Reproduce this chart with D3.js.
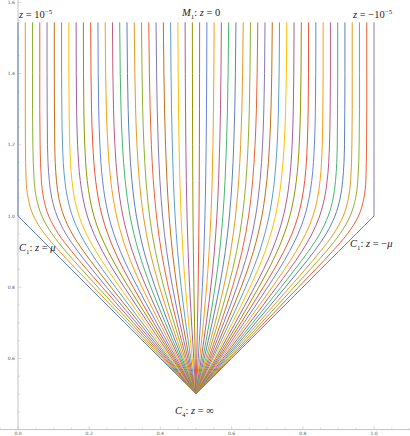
<!DOCTYPE html>
<html>
<head>
<meta charset="utf-8">
<script src="https://cdn.jsdelivr.net/npm/d3@7"></script>
<style>
    body { margin: 0; background: #fff; }
    svg { display: block; }
    .lbl { font-family: "Liberation Serif", "DejaVu Serif", serif; font-size: 10.5px; fill: #222; }
    .tick-lbl { font-family: "DejaVu Sans", sans-serif; font-size: 4.5px; fill: #555; }
</style>
</head>
<body>
<div id="chart"></div>
<script>
// x of each curve where it leaves the top of the plot
const topX = [0, 0.0204, 0.0408, 0.0612, 0.0816, 0.1020, 0.1224, 0.1429, 0.1633, 0.1837,
              0.2041, 0.2245, 0.2449, 0.2653, 0.2857, 0.3061, 0.3265, 0.3469, 0.3673, 0.3878,
              0.4082, 0.4286, 0.4490, 0.4694, 0.4898, 0.5102, 0.5306, 0.5510, 0.5714, 0.5918,
              0.6122, 0.6327, 0.6531, 0.6735, 0.6939, 0.7143, 0.7347, 0.7551, 0.7755, 0.7959,
              0.8163, 0.8367, 0.8571, 0.8776, 0.8980, 0.9184, 0.9388, 0.9592, 0.9796, 1];

// y levels where the curves are sampled
const levels = [1.544, 1.4, 1.3, 1.2, 1.1, 1.05, 1.0, 0.95, 0.9, 0.85, 0.8, 0.7, 0.6, 0.5];

// share of the top offset from x = 0.5 still left at each level (one row per knee shape,
// sharp outer corner first, softest knee last)
const profiles = [
    [1, 1,    1,    1,    1,    1,    1,    0.9,  0.8,  0.7,  0.6,  0.4,  0.2,  0],
    [1, 1,    1,    0.999, 0.995, 0.983, 0.952, 0.887, 0.798, 0.700, 0.600, 0.400, 0.200, 0],
    [1, 1,    1,    0.998, 0.990, 0.976, 0.943, 0.881, 0.795, 0.699, 0.600, 0.400, 0.200, 0],
    [1, 1,    0.999, 0.997, 0.985, 0.968, 0.933, 0.874, 0.792, 0.698, 0.600, 0.400, 0.200, 0],
    [1, 1,    0.998, 0.993, 0.976, 0.956, 0.920, 0.863, 0.786, 0.696, 0.599, 0.400, 0.200, 0],
    [1, 0.999, 0.996, 0.988, 0.966, 0.943, 0.907, 0.852, 0.779, 0.693, 0.598, 0.400, 0.200, 0],
    [1, 0.997, 0.992, 0.980, 0.953, 0.928, 0.891, 0.838, 0.770, 0.688, 0.596, 0.401, 0.201, 0],
    [1, 0.995, 0.987, 0.971, 0.939, 0.912, 0.875, 0.824, 0.760, 0.682, 0.594, 0.401, 0.201, 0],
    [1, 0.993, 0.983, 0.964, 0.929, 0.901, 0.864, 0.814, 0.752, 0.677, 0.592, 0.402, 0.202, 0],
    [1, 0.990, 0.978, 0.956, 0.918, 0.889, 0.852, 0.804, 0.744, 0.672, 0.590, 0.403, 0.203, 0],
    [1, 0.986, 0.971, 0.945, 0.904, 0.874, 0.837, 0.790, 0.733, 0.665, 0.586, 0.405, 0.205, 0],
    [1, 0.982, 0.963, 0.933, 0.889, 0.859, 0.822, 0.776, 0.722, 0.657, 0.582, 0.406, 0.207, 0]
];

// knee shape used by each curve
const shape = [0, 1, 2, 2, 3, 3, 4, 4, 5, 5, 6, 6, 7, 7, 8, 8, 9, 9, 10, 10, 11, 11, 11, 11, 11,
               11, 11, 11, 11, 11, 10, 10, 9, 9, 8, 8, 7, 7, 6, 6, 5, 5, 4, 4, 3, 3, 2, 2, 1, 0];

const apexX = 0.5;

const palette = ["#5E81B5", "#E19C24", "#8FB032", "#EB6235", "#8778B3", "#C56E1A", "#5D9EC7",
                 "#FFBF00", "#A5609D", "#929600", "#E95536", "#6685D9", "#F89F13", "#BC5B80", "#47B66D"];

const xTicks = [0, 0.2, 0.4, 0.6, 0.8, 1.0];
const yTicks = [0.6, 0.8, 1.0, 1.2, 1.4, 1.6];

const W = 410, H = 436;

let svg = d3.select("#chart").append("svg")
    .attr("width", W)
    .attr("height", H);

// same unit length on both axes
let x = d3.scaleLinear().domain([0, 1]).range([18, 374]);
let y = d3.scaleLinear().domain([0.4, 1.6]).range([429.6, 2.4]);

// axes
let axisCol = "#c4c4c4";
svg.append("line")
    .attr("x1", 0).attr("x2", W)
    .attr("y1", y(0.4)).attr("y2", y(0.4))
    .attr("stroke", axisCol).attr("stroke-width", 1);
svg.append("line")
    .attr("x1", x(0)).attr("x2", x(0))
    .attr("y1", 0).attr("y2", y(0.4))
    .attr("stroke", axisCol).attr("stroke-width", 1);

let isMajor = d => Math.abs(d / 0.2 - Math.round(d / 0.2)) < 1e-6;

let minorX = d3.range(-1, 23).map(i => i * 0.05);
svg.selectAll(".xtick")
    .data(minorX)
    .enter().append("line")
    .attr("x1", d => x(d)).attr("x2", d => x(d))
    .attr("y1", y(0.4))
    .attr("y2", d => y(0.4) - (isMajor(d) ? 3.5 : 2))
    .attr("stroke", axisCol).attr("stroke-width", 0.6);

let minorY = d3.range(9, 33).map(i => i * 0.05);
svg.selectAll(".ytick")
    .data(minorY)
    .enter().append("line")
    .attr("y1", d => y(d)).attr("y2", d => y(d))
    .attr("x1", x(0))
    .attr("x2", d => x(0) + (isMajor(d) ? 3.5 : 2))
    .attr("stroke", axisCol).attr("stroke-width", 0.6);

svg.selectAll(".xl")
    .data(xTicks)
    .enter().append("text")
    .attr("class", "tick-lbl")
    .attr("x", d => x(d))
    .attr("y", y(0.4) + 5.5)
    .attr("text-anchor", "middle")
    .text(d => d.toFixed(1));

svg.selectAll(".yl")
    .data(yTicks)
    .enter().append("text")
    .attr("class", "tick-lbl")
    .attr("x", x(0) - 3)
    .attr("y", d => y(d) + 1.6)
    .attr("text-anchor", "end")
    .text(d => d.toFixed(1));

// curves
let smooth = d3.line().x(d => x(d[0])).y(d => y(d[1])).curve(d3.curveMonotoneY);
let sharp = d3.line().x(d => x(d[0])).y(d => y(d[1]));

svg.append("g")
    .selectAll("path")
    .data(topX)
    .enter().append("path")
    .attr("d", (a, i) => {
        let g = profiles[shape[i]];
        let pts = levels.map((lv, j) => [apexX + (a - apexX) * g[j], lv]);
        return shape[i] === 0 ? sharp(pts) : smooth(pts);
    })
    .attr("fill", "none")
    .attr("stroke", (d, i) => palette[i % palette.length])
    .attr("stroke-width", 1)
    .attr("stroke-linejoin", "round");

// labels
function label(px, py, parts) {
    let t = svg.append("text").attr("class", "lbl").attr("x", px).attr("y", py);
    parts.forEach(p => {
        let s = t.append("tspan").text(p.t);
        if (p.i) s.attr("font-style", "italic");
        if (p.sup) s.attr("font-size", "7px").attr("dy", "-4");
        if (p.sub) s.attr("font-size", "7px").attr("dy", "2.5");
        if (p.back) s.attr("dy", p.back);
    });
}

label(19, 18, [{t: "z", i: 1}, {t: " = 10"}, {t: "\u22125", sup: 1}]);
label(182, 16, [{t: "M", i: 1}, {t: "1", sub: 1}, {t: ": ", back: "-2.5"}, {t: "z", i: 1}, {t: " = 0"}]);
label(353, 18, [{t: "z", i: 1}, {t: " = \u221210"}, {t: "\u22125", sup: 1}]);
label(19, 251, [{t: "C", i: 1}, {t: "1", sub: 1}, {t: ": ", back: "-2.5"}, {t: "z", i: 1}, {t: " = "}, {t: "\u03bc", i: 1}]);
label(350, 247, [{t: "C", i: 1}, {t: "1", sub: 1}, {t: ": ", back: "-2.5"}, {t: "z", i: 1}, {t: " = \u2212"}, {t: "\u03bc", i: 1}]);
label(175, 414, [{t: "C", i: 1}, {t: "4", sub: 1}, {t: ": ", back: "-2.5"}, {t: "z", i: 1}, {t: " = \u221e"}]);
</script>
</body>
</html>
